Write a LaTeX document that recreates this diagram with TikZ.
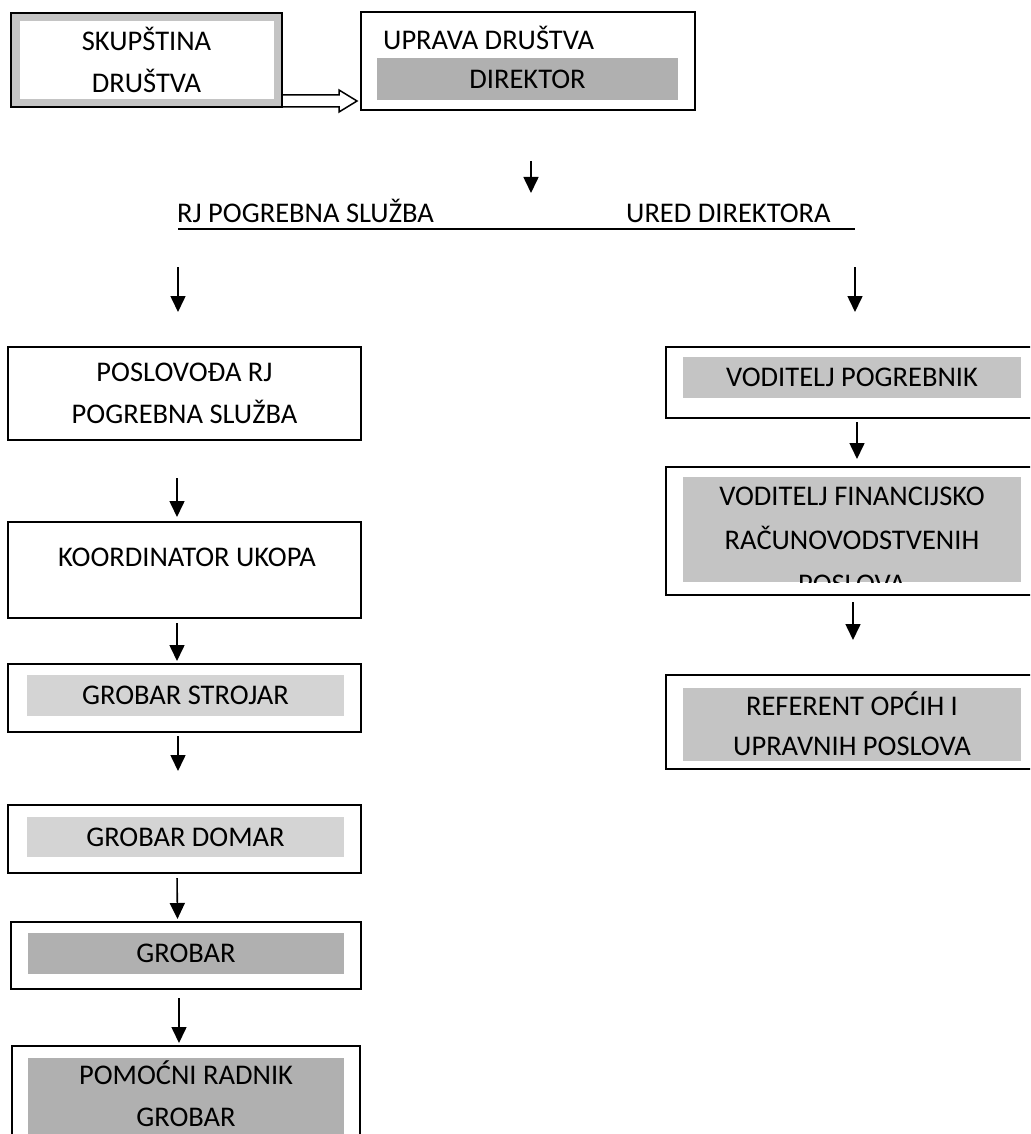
\documentclass[tikz,border=0pt]{standalone}
\usepackage{fontspec}
\setmainfont{Carlito}
\usetikzlibrary{arrows.meta,calc}
\definecolor{bandlight}{HTML}{D4D4D4}
\definecolor{bandmid}{HTML}{C4C4C4}
\definecolor{banddark}{HTML}{B0B0B0}
\tikzset{
  frame/.style={draw, line width=2pt, fill=white, inner sep=0pt},
  band/.style={inner sep=0pt, align=center},
  arr/.style={-{Triangle[length=16pt,width=15pt]}, line width=1.6pt},
}

\begin{document}
\begin{tikzpicture}[x=1pt, y=1pt, font=\fontsize{28.5}{42}\selectfont]
\useasboundingbox (0,0) rectangle (1030,-1134);
\clip (0,0) rectangle (1030,-1134);
% skupstina and uprava
\node[frame, fill=bandmid, minimum width=271pt, minimum height=94pt] (skup) at (146.5,-60) {};
\node[band, fill=white, minimum width=254pt, minimum height=78pt] (skuptxt) at (skup) {SKUPŠTINA\\DRUŠTVA};
\node[frame, minimum width=334pt, minimum height=98pt] (uprava) at (528,-61) {};
\node[anchor=base west, inner sep=0pt] (upravatxt) at (383,-50) {UPRAVA DRUŠTVA};
\node[band, fill=banddark, minimum width=301pt, minimum height=42pt] (direktor) at (527.5,-79) {DIREKTOR};
\coordinate (dtip) at ($(uprava.south west)+(-3,10)$);
\draw[line width=1.5pt] ($(skup.south east)+(0,13)$) -- ($(dtip)+(-18,6)$) -- ($(dtip)+(-18,11)$)
  -- (dtip) -- ($(dtip)+(-18,-11)$) -- ($(dtip)+(-18,-6)$) -- ($(skup.south east)+(0,1)$);
% split line
\coordinate (split) at (531,-229);
\coordinate (lsplit) at (178,-229);
\coordinate (rsplit) at (855,-229);
\draw[arr, shorten <=50pt, shorten >=36pt] (uprava.south -| split) -- (split);
\draw[line width=1.6pt] (lsplit) -- (rsplit);
\node[anchor=base west, inner sep=0pt] (rj) at (177,-222) {RJ POGREBNA SLUŽBA};
\node[anchor=base west, inner sep=0pt] (ured) at (626,-222) {URED DIREKTORA};
% left column
\node[frame, minimum width=353pt, minimum height=93pt, align=center] (posl) at (184.5,-393.5) {POSLOVOĐA RJ\\POGREBNA SLUŽBA};
\node[frame, minimum width=353pt, minimum height=96pt] (koord) at (184.5,-570) {};
\node[anchor=base, inner sep=0pt] (koordtxt) at (187,-566) {KOORDINATOR UKOPA};
\node[frame, minimum width=353pt, minimum height=68pt] (strojar) at (184.5,-698) {};
\node[band, fill=bandlight, minimum width=317pt, minimum height=41pt] (strojartxt) at (185.5,-695.5) {GROBAR STROJAR};
\node[frame, minimum width=353pt, minimum height=68pt] (domar) at (184.5,-839) {};
\node[band, fill=bandlight, minimum width=317pt, minimum height=40pt] (domartxt) at (185.5,-837) {GROBAR DOMAR};
\node[frame, minimum width=350pt, minimum height=67pt] (grobar) at (186,-955.5) {};
\node[band, fill=banddark, minimum width=316pt, minimum height=41pt] (grobartxt) at (186,-953.5) {GROBAR};
\node[frame, minimum width=348pt, minimum height=106pt] (pomocni) at (186,-1099) {};
\node[band, fill=banddark, minimum width=316pt, minimum height=82pt] (pomocniband) at (186,-1099) {};
\node[band, font=\fontsize{28.5}{42}\selectfont] (pomocnitxt) at (186,-1094) {POMOĆNI RADNIK\\GROBAR};
% right column
\node[frame, minimum width=374pt, minimum height=71pt] (vpog) at (853,-382.5) {};
\node[band, fill=bandmid, minimum width=338pt, minimum height=41pt] (vpogtxt) at (852,-377.5) {VODITELJ POGREBNIK};
\node[frame, minimum width=374pt, minimum height=128pt] (vfin) at (853,-531) {};
\node[band, fill=bandmid, minimum width=338pt, minimum height=105pt] (vfinband) at (852,-529.5) {};
\begin{scope}
\clip (vfinband.south west) rectangle (vfinband.north east);
\node[band, font=\fontsize{28.5}{44}\selectfont] (vfintxt) at (852,-540) {VODITELJ FINANCIJSKO\\RAČUNOVODSTVENIH\\POSLOVA};
\end{scope}
\node[frame, minimum width=374pt, minimum height=94pt] (ref) at (853,-722) {};
\node[band, fill=bandmid, minimum width=338pt, minimum height=73pt, font=\fontsize{28.5}{40}\selectfont] (reftxt) at (852,-724) {REFERENT OPĆIH I\\UPRAVNIH POSLOVA};
% arrows
\draw[arr, shorten <=38pt, shorten >=34pt] (lsplit) -- (lsplit |- posl.north);
\draw[arr, shorten <=38pt, shorten >=34pt] (rsplit) -- (rsplit |- vpog.north);
\draw[arr, shorten <=37pt, shorten >=4pt] ([xshift=-7.5pt]posl.south) -- ([xshift=-7.5pt]koord.north);
\draw[arr, shorten <=4pt, shorten >=2pt] ([xshift=-7.5pt]koord.south) -- ([xshift=-7.5pt]strojar.north);
\draw[arr, shorten <=3pt, shorten >=33pt] ([xshift=-6.5pt]strojar.south) -- ([xshift=-6.5pt]domar.north);
\draw[arr, shorten <=4pt, shorten >=2pt] ([xshift=-7.5pt]domar.south) -- ([xshift=-8.5pt]grobar.north);
\draw[arr, shorten <=8pt, shorten >=2pt] ([xshift=-7pt]grobar.south) -- ([xshift=-7pt]pomocni.north);
\draw[arr, shorten <=3pt, shorten >=7pt] ([xshift=4pt]vpog.south) -- ([xshift=4pt]vfin.north);
\draw[arr, shorten <=6pt, shorten >=34pt] (vfin.south) -- (vfin.north |- ref.north);
\end{tikzpicture}
\end{document}
